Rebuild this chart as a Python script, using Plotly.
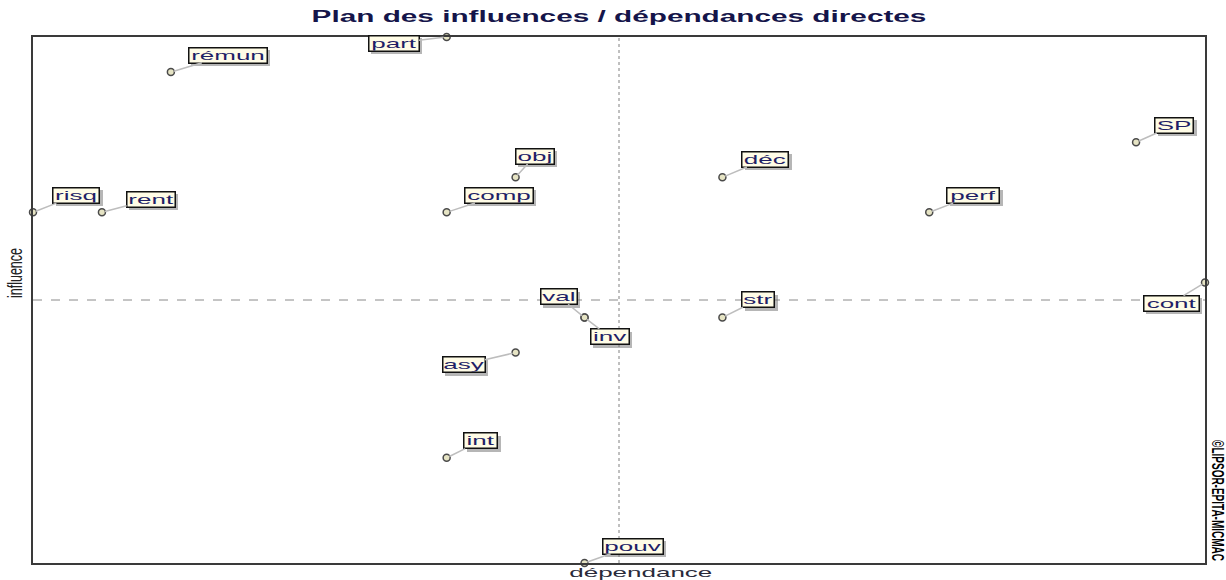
import plotly.graph_objects as go

# ---- data ----
names = ["rémun", "part", "risq", "rent", "obj", "comp", "déc", "SP",
         "perf", "val", "inv", "str", "asy", "int", "pouv", "cont"]
dependance = [2, 6, 0, 1, 7, 6, 10, 16, 13, 8, 8, 10, 7, 6, 8, 17]
influence = [14, 15, 10, 10, 11, 10, 11, 12, 10, 7, 7, 7, 6, 3, 0, 8]
x_mid = 8.5
y_mid = 7.5

title_text = "Plan des influences / dépendances directes"
x_label = "dépendance"
y_label = "influence"
credit = "©LIPSOR-EPITA-MICMAC"

# ---- label placement (pixel offsets of box centre from point, box widths) ----
label_offsets = {
    "rémun": (57, -17), "part": (-53, 6), "risq": (43, -17), "rent": (49, -13),
    "obj": (19, -21), "comp": (52, -17), "déc": (43, -18), "SP": (38, -17),
    "perf": (44, -17), "val": (-26, -21), "inv": (25, 19), "str": (36, -18),
    "asy": (-52, 12), "int": (34, -17), "pouv": (48, -17), "cont": (-34, 21),
}
label_widths = {
    "rémun": 80, "part": 52, "risq": 48, "rent": 50, "obj": 40, "comp": 70,
    "déc": 48, "SP": 40, "perf": 54, "val": 38, "inv": 40, "str": 34,
    "asy": 44, "int": 35, "pouv": 62, "cont": 57,
}

FONT = "Liberation Sans, Arial, sans-serif"

fig = go.Figure()
fig.add_trace(go.Scatter(
    x=dependance, y=influence, mode="markers", cliponaxis=False,
    marker=dict(symbol="circle", size=7, color="#e6e4c4",
                line=dict(color="#4a4a4a", width=1.5)),
    hoverinfo="text", text=names, showlegend=False,
))

annotations = []
for n, xv, yv in zip(names, dependance, influence):
    ax, ay = label_offsets[n]
    w = label_widths[n]
    # shadow
    annotations.append(dict(
        x=xv, y=yv, xref="x", yref="y", showarrow=False, text=" ",
        xshift=ax + 3, yshift=-ay - 3, width=w - 3, height=14,
        bgcolor="rgba(110,110,110,0.5)", borderwidth=0, borderpad=1,
    ))
for n, xv, yv in zip(names, dependance, influence):
    ax, ay = label_offsets[n]
    w = label_widths[n]
    annotations.append(dict(
        x=xv, y=yv, xref="x", yref="y", text=n, showarrow=True,
        ax=ax, ay=ay, arrowhead=0, arrowwidth=1.5, arrowcolor="#bdbdbd",
        standoff=3, width=w - 3, height=14, bgcolor="#fffce6",
        bordercolor="#111111", borderwidth=1.5, borderpad=0,
        font=dict(family=FONT, size=13, color="#1f1f66"),
    ))

annotations.append(dict(
    x=(641 - 33) / 1172, y=0, xref="paper", yref="paper",
    xanchor="center", yanchor="top",
    yshift=0, showarrow=False, text=x_label,
    font=dict(family=FONT, size=13, color="#2a2a3a"),
))
annotations.append(dict(
    x=(16 - 33) / 1172, y=(563 - 273) / 526, xref="paper", yref="paper",
    xanchor="center", yanchor="middle", showarrow=False,
    text=y_label, textangle=-90,
    font=dict(family=FONT, size=12.5, color="#222222"),
))
annotations.append(dict(
    x=(1218 - 33) / 1172, y=(563 - 500) / 526, xref="paper", yref="paper",
    xanchor="center", yanchor="middle", showarrow=False,
    text=credit, textangle=90,
    font=dict(family=FONT, size=10, color="#000000", weight="bold"),
))

shapes = [
    dict(type="line", xref="x", yref="paper", x0=x_mid, x1=x_mid, y0=0, y1=1,
         line=dict(color="#808080", width=1, dash="dot")),
    dict(type="line", xref="paper", yref="y", x0=0, x1=1, y0=y_mid, y1=y_mid,
         line=dict(color="#8a8a8a", width=1, dash="dash")),
]

fig.update_layout(
    width=1226, height=580,
    margin=dict(l=33, r=21, t=37, b=17),
    paper_bgcolor="#ffffff", plot_bgcolor="#ffffff",
    title=dict(text=title_text, x=0.5, xref="paper", y=1 - 16 / 580,
               yref="container", xanchor="center", yanchor="middle",
               font=dict(family=FONT, size=16, color="#15154a", weight="bold")),
    xaxis=dict(range=[0, 17], showgrid=False, zeroline=False, showticklabels=False,
               ticks="", showline=True, mirror=True, linecolor="#3a3a3a",
               linewidth=2, fixedrange=True),
    yaxis=dict(range=[0, 15], showgrid=False, zeroline=False, showticklabels=False,
               ticks="", showline=True, mirror=True, linecolor="#3a3a3a",
               linewidth=2, fixedrange=True),
    annotations=annotations,
    shapes=shapes,
    showlegend=False,
)

stretch_sel = ",".join(
    'text.annotation-text[data-unformatted="%s"]' % t for t in names + [x_label]
)
vert_sel = ",".join(
    'text.annotation-text[data-unformatted="%s"]' % t for t in [y_label, credit]
)
css = ("html,body{margin:0;padding:0;overflow:hidden;}"
       ".gtitle{transform-box:fill-box;transform-origin:center;transform:scaleX(1.86);}"
       + stretch_sel
       + "{transform-box:fill-box;transform-origin:center;transform:scaleX(2.0);}"
       + vert_sel
       + "{transform-box:fill-box;transform-origin:center;transform:scaleY(1.6);}")
post = ("var s=document.createElement('style');s.textContent=%r;"
        "document.head.appendChild(s);" % css)

fig.write_html("out.html", post_script=post, config={"displayModeBar": False})
